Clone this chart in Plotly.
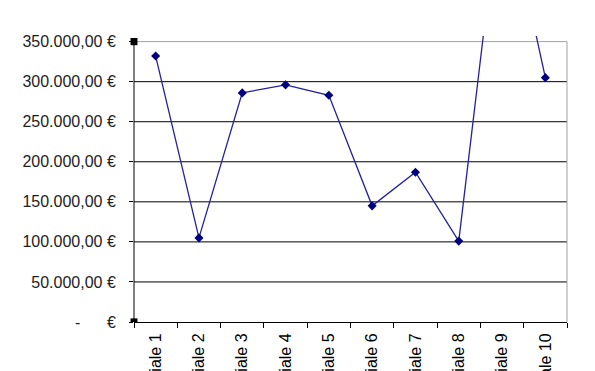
import plotly.graph_objects as go

categories = ["Filiale 1", "Filiale 2", "Filiale 3", "Filiale 4", "Filiale 5",
              "Filiale 6", "Filiale 7", "Filiale 8", "Filiale 9", "Filiale 10"]
values = [332000, 105000, 286000, 296000, 283000, 145000, 187000, 101000, 553000, 305000]
tick_vals = [0, 50000, 100000, 150000, 200000, 250000, 300000, 350000]
tick_text = ["-\u00a0\u00a0\u00a0\u00a0\u00a0\u00a0€", "50.000,00 €", "100.000,00 €", "150.000,00 €",
             "200.000,00 €", "250.000,00 €", "300.000,00 €", "350.000,00 €"]

FONT = "Liberation Sans, Arial, sans-serif"

fig = go.Figure()
fig.add_trace(go.Scatter(
    x=categories, y=values, mode="lines+markers",
    line=dict(color="#22229c", width=1.3),
    marker=dict(symbol="diamond", size=7, color="#000080"),
    showlegend=False,
))

shapes = []
# horizontal gridlines (black), top border gray
for tv in tick_vals[1:]:
    col = "#a0a0a0" if tv == tick_vals[-1] else "#000000"
    shapes.append(dict(type="line", xref="paper", yref="y", x0=0, x1=1, y0=tv, y1=tv,
                       line=dict(color=col, width=1), layer="below"))
# right border
shapes.append(dict(type="line", xref="paper", yref="y", x0=1, x1=1, y0=0, y1=tick_vals[-1],
                   line=dict(color="#a0a0a0", width=1), layer="below"))
# left axis line
shapes.append(dict(type="line", xref="paper", yref="y", x0=0, x1=0, y0=0, y1=tick_vals[-1],
                   line=dict(color="#000000", width=1), layer="above"))

fig.update_layout(
    width=595, height=371,
    margin=dict(l=134, r=28, t=36, b=49, pad=0),
    paper_bgcolor="white", plot_bgcolor="white",
    font=dict(family=FONT, size=16, color="#000000"),
    shapes=shapes,
    xaxis=dict(
        type="category", tickangle=-90, tickson="boundaries",
        ticks="outside", ticklen=5, tickcolor="#000000", tickwidth=1,
        showline=True, linecolor="#000000", linewidth=1,
        showgrid=False, zeroline=False, automargin=False,
        range=[-0.5, 9.5], ticklabelstandoff=4,
        tickfont=dict(family=FONT, size=16, color="#000000"),
    ),
    yaxis=dict(
        range=[0, 357000], tickvals=tick_vals, ticktext=tick_text,
        ticks="outside", ticklen=4, tickcolor="#000000", tickwidth=1,
        showline=False, showgrid=False,
        zeroline=False, ticklabelstandoff=10, automargin=False,
        tickfont=dict(family=FONT, size=16, color="#222222"),
    ),
)

# small selection handles at axis ends
for yv in (0, 350000):
    fig.add_shape(type="rect", xref="paper", yref="y",
                  x0=-0.008, x1=0.008, y0=yv - 4500, y1=yv + 4500,
                  fillcolor="#000000", line=dict(width=0), layer="above")

fig.write_html("out.html")
